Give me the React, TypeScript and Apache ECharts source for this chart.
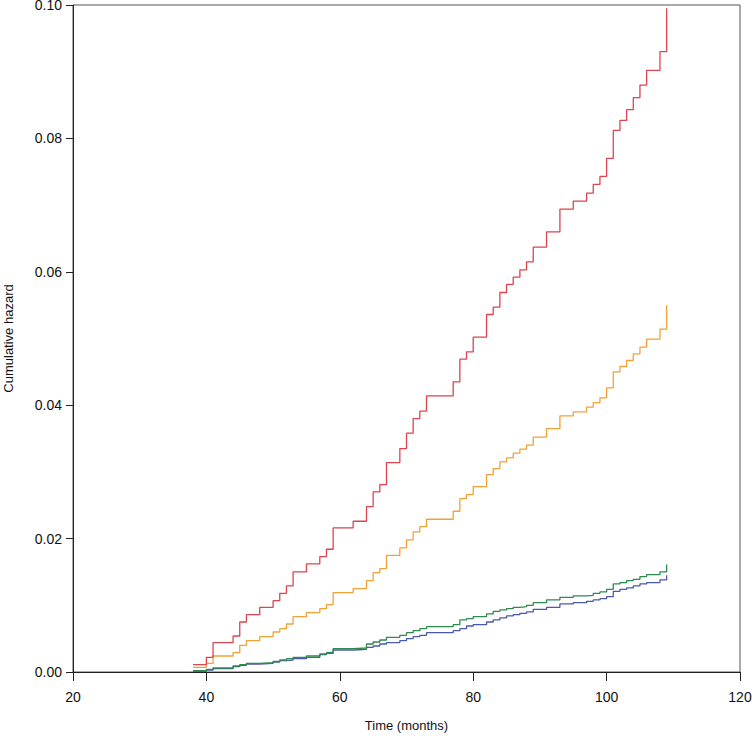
import React, { useEffect, useRef } from "react";
import * as echarts from "echarts";

const times = [38, 40, 41, 44, 45, 46, 48, 50, 51, 52, 53, 55, 57, 58, 59, 62, 64, 65, 66, 67, 69, 70, 71, 72, 73, 77, 78, 79, 80, 82, 83, 84, 85, 86, 87, 88, 89, 91, 93, 95, 97, 98, 99, 100, 101, 102, 103, 104, 105, 106, 108, 109];

const redValues = [0.0011, 0.0022, 0.0044, 0.0054, 0.0075, 0.0086, 0.0097, 0.0107, 0.0118, 0.0129, 0.0150, 0.0162, 0.0173, 0.0184, 0.0216, 0.0226, 0.0248, 0.0270, 0.0281, 0.0314, 0.0335, 0.0358, 0.0380, 0.0391, 0.0414, 0.0435, 0.0469, 0.0480, 0.0502, 0.0536, 0.0547, 0.0569, 0.0581, 0.0592, 0.0603, 0.0615, 0.0637, 0.0660, 0.0694, 0.0706, 0.0718, 0.0731, 0.0743, 0.0770, 0.0812, 0.0827, 0.0843, 0.0861, 0.0880, 0.0902, 0.0930, 0.0995];

const orangeValues = [0.0007, 0.0013, 0.0024, 0.0029, 0.0040, 0.0047, 0.0053, 0.0060, 0.0065, 0.0072, 0.0083, 0.0089, 0.0095, 0.0101, 0.0119, 0.0125, 0.0137, 0.0149, 0.0155, 0.0175, 0.0186, 0.0198, 0.0210, 0.0218, 0.0229, 0.0241, 0.0260, 0.0266, 0.0278, 0.0296, 0.0305, 0.0315, 0.0321, 0.0328, 0.0334, 0.0340, 0.0352, 0.0365, 0.0384, 0.0390, 0.0397, 0.0404, 0.0411, 0.0426, 0.0450, 0.0458, 0.0467, 0.0477, 0.0487, 0.0499, 0.0514, 0.0550];

const greenValues = [0.0002, 0.0004, 0.0006, 0.0009, 0.0011, 0.0013, 0.0014, 0.0016, 0.0018, 0.0020, 0.0022, 0.0024, 0.0027, 0.0029, 0.0035, 0.0036, 0.0042, 0.0045, 0.0048, 0.0052, 0.0055, 0.0059, 0.0062, 0.0065, 0.0068, 0.0071, 0.0078, 0.0080, 0.0083, 0.0087, 0.0091, 0.0093, 0.0095, 0.0097, 0.0098, 0.0100, 0.0104, 0.0108, 0.0112, 0.0114, 0.0115, 0.0118, 0.0120, 0.0124, 0.0132, 0.0134, 0.0137, 0.0139, 0.0143, 0.0146, 0.0150, 0.0161];

const blueValues = [0.0001, 0.0003, 0.0005, 0.0008, 0.0010, 0.0012, 0.0013, 0.0015, 0.0017, 0.0018, 0.0020, 0.0022, 0.0026, 0.0028, 0.0033, 0.0034, 0.0037, 0.0039, 0.0042, 0.0044, 0.0047, 0.0050, 0.0053, 0.0055, 0.0059, 0.0062, 0.0065, 0.0069, 0.0071, 0.0075, 0.0078, 0.0081, 0.0084, 0.0086, 0.0088, 0.0090, 0.0094, 0.0097, 0.0102, 0.0104, 0.0106, 0.0108, 0.0110, 0.0113, 0.0121, 0.0124, 0.0126, 0.0129, 0.0132, 0.0134, 0.0138, 0.0145];

const seriesDefs = [
  { name: "Blue", values: blueValues, color: "#4a5aa8" },
  { name: "Green", values: greenValues, color: "#2f8a4f" },
  { name: "Orange", values: orangeValues, color: "#f0a238" },
  { name: "Red", values: redValues, color: "#dc4450" },
];

const xTicks = [20, 40, 60, 80, 100, 120];

export default function App() {
  const ref = useRef<HTMLDivElement>(null);
  useEffect(() => {
    document.body.style.margin = "0";
    if (!ref.current) return;
    const chart = echarts.init(ref.current, undefined, { renderer: "svg" });
    const font = "'Liberation Sans', Arial, sans-serif";
    chart.setOption({
      animation: false,
      backgroundColor: "#ffffff",
      grid: {
        left: 73,
        right: 12,
        top: 5,
        bottom: 66,
        show: true,
        borderColor: "#555555",
        borderWidth: 1,
        containLabel: false,
        outerBoundsMode: "none",
      },
      xAxis: {
        type: "value",
        min: xTicks[0],
        max: xTicks[xTicks.length - 1],
        interval: 20,
        name: "Time (months)",
        nameLocation: "middle",
        nameGap: 47,
        nameTextStyle: { fontFamily: font, fontSize: 13, color: "#111" },
        axisLine: { show: true, lineStyle: { color: "#222", width: 1 } },
        axisTick: { show: true, inside: false, length: 9, lineStyle: { color: "#222" } },
        axisLabel: { fontFamily: font, fontSize: 14, color: "#111", margin: 18 },
        splitLine: { show: false },
      },
      yAxis: {
        type: "value",
        min: 0,
        max: 0.1,
        interval: 0.02,
        name: "Cumulative hazard",
        nameLocation: "middle",
        nameGap: 58,
        nameRotate: 90,
        nameTextStyle: { fontFamily: font, fontSize: 13, color: "#111" },
        axisLine: { show: true, lineStyle: { color: "#222", width: 1 } },
        axisTick: { show: true, inside: false, length: 7, lineStyle: { color: "#222" } },
        axisLabel: {
          fontFamily: font,
          fontSize: 14,
          lineHeight: 10,
          color: "#111",
          margin: 11,
          formatter: (v: number) => v.toFixed(2),
        },
        splitLine: { show: false },
      },
      series: seriesDefs.map((s) => ({
        name: s.name,
        type: "line",
        step: "end",
        symbol: "none",
        lineStyle: { color: s.color, width: 1.3 },
        itemStyle: { color: s.color },
        data: times.map((t, i) => [t, s.values[i]]),
      })),
    });
    return () => chart.dispose();
  }, []);
  return <div ref={ref} style={{ width: 752, height: 738 }} />;
}
